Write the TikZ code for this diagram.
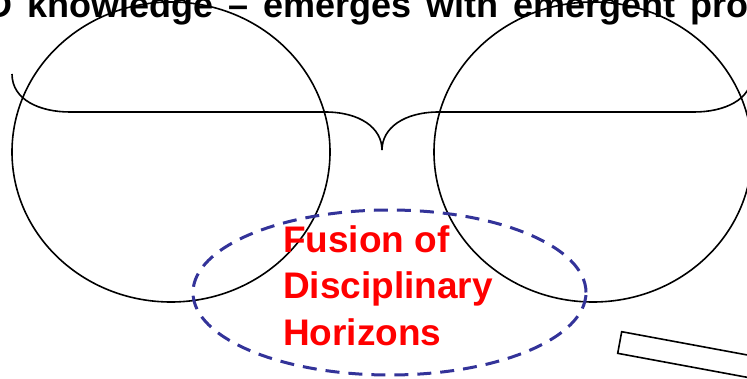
\documentclass[tikz,border=0pt]{standalone}
\usepackage{fontspec}
\setmainfont{Liberation Sans}
\usetikzlibrary{positioning}
\definecolor{fusionblue}{RGB}{51,51,153}
\tikzset {
  lens/.style={line width=1.6pt},
  fusion/.style={draw=fusionblue,line width=3pt,dash pattern=on 14pt off 9pt},
  redlabel/.style={red,font=\fontsize{37}{44}\selectfont\bfseries,
    anchor=base west,inner sep=0pt},
}

\begin{document}
\begin{tikzpicture}[x=1pt,y=-1pt]
      \useasboundingbox (0,0) rectangle (747,379);
      \clip (0,0) rectangle (747,379);

      % heading, cut off by the page
      \node (title) at (-14,18)[anchor=base west,inner sep=0pt,
        font=\fontsize{36}{42}\selectfont\bfseries]
        {\spaceskip=15pt D knowledge – emerges with emergent pro};

      % the two lenses and the brace over them
      \draw[lens] (171,152) ellipse[x radius=159pt,y radius=150pt];
      \draw[lens] (593,152) ellipse[x radius=159pt,y radius=150pt];
      \draw[lens] (12,74) .. controls (12,100) and (40,112) .. (70,112)
        -- (325,112) .. controls (360,112) and (382,128) .. (382,150)
        .. controls (382,128) and (404,112) .. (439,112)
        -- (694,112) .. controls (724,112) and (752,100) .. (752,74);

      \draw[fusion] (389.5,292.5) ellipse[x radius=196.5pt,y radius=82.5pt];
      \node (fus) at (283,253)[redlabel]{Fusion of};
      \node (dis) at (283,299)[redlabel]{Disciplinary};
      \node (hor) at (283,345)[redlabel]{Horizons};

      \draw[line width=1.6pt] (621.7,331.7) -- ++(10.5:200) -- ++(100.5:22)
        -- ++(190.5:200) -- cycle;
    \end{tikzpicture}
\end{document}
